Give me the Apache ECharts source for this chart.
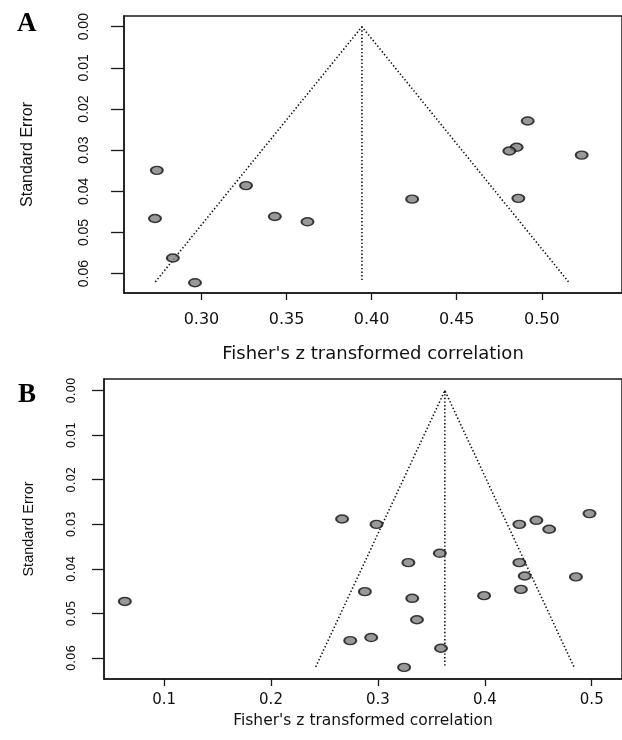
<!DOCTYPE html>
<html>
<head>
<meta charset="utf-8">
<script src="https://cdn.jsdelivr.net/npm/echarts@6/dist/echarts.min.js"></script>
<style>
  html, body { margin: 0; padding: 0; background: #fff; overflow: hidden; }
  #chart { width: 622px; height: 740px; }
</style>
</head>
<body>
<div id="chart"></div>
<script>
// Panel A: Fisher's z and standard error of each study
const zA = [0.2738, 0.2727, 0.2832, 0.2962, 0.3262, 0.3431, 0.3623, 0.4238, 0.4917, 0.4852, 0.4809, 0.5234, 0.4862];
const seA = [0.0349, 0.0466, 0.0562, 0.0622, 0.0386, 0.0461, 0.0474, 0.0419, 0.0229, 0.0293, 0.0302, 0.0312, 0.0417];
// funnel outline (left foot, apex, right foot) and centre line
const funnelA = [[0.2729, 0.062], [0.3943, 0], [0.5157, 0.062]];
const centreA = [[0.3943, 0], [0.3943, 0.062]];

// Panel B
const zB = [0.0633, 0.2665, 0.2987, 0.3579, 0.3285, 0.2878, 0.3321, 0.3365, 0.2937, 0.2741, 0.3590,
  0.3245, 0.3993, 0.4323, 0.4482, 0.4602, 0.4979, 0.4323, 0.4373, 0.4337, 0.4852];
const seB = [0.0473, 0.0288, 0.0300, 0.0365, 0.0386, 0.0451, 0.0466, 0.0514, 0.0554, 0.0561, 0.0578,
  0.0621, 0.0460, 0.0300, 0.0291, 0.0311, 0.0276, 0.0386, 0.0416, 0.0446, 0.0418];
const funnelB = [[0.2418, 0.062], [0.3626, 0], [0.4834, 0.062]];
const centreB = [[0.3626, 0], [0.3626, 0.062]];

// tick labels
const seTicks = [0, 0.01, 0.02, 0.03, 0.04, 0.05, 0.06];
const zTicksA = [0.30, 0.35, 0.40, 0.45, 0.50];
const zTicksB = [0.1, 0.2, 0.3, 0.4, 0.5];

const ink = '#1a1a1a';
const xFont = 'DejaVu Sans, Verdana, sans-serif';
const yFont = 'Liberation Sans, Arial, sans-serif';

const toPairs = (xs, ys) => xs.map((x, i) => [x, ys[i]]);

const chart = echarts.init(document.getElementById('chart'), null, { renderer: 'canvas' });

const xAxisBase = (gridIndex, min, max, ticks, digits, fontSize, margin, nameSize, nameGap) => ({
  type: 'value',
  gridIndex,
  min,
  max,
  position: 'bottom',
  splitLine: { show: false },
  axisLine: { show: true, onZero: false, lineStyle: { color: ink, width: 1.5 } },
  axisTick: { show: true, customValues: ticks, length: 7, lineStyle: { color: ink, width: 1.3 } },
  axisLabel: {
    customValues: ticks,
    formatter: v => v.toFixed(digits),
    color: '#111',
    fontFamily: xFont,
    fontSize,
    margin,
  },
  name: "Fisher's z transformed correlation",
  nameLocation: 'middle',
  nameGap,
  nameTextStyle: { color: '#111', fontFamily: xFont, fontSize: nameSize },
});

const yAxisBase = (gridIndex, labelFont, labelSize, margin, tickLen, nameSize, nameGap) => ({
  type: 'value',
  gridIndex,
  inverse: true,
  min: -0.0026,
  max: 0.0647,
  splitLine: { show: false },
  axisLine: { show: true, onZero: false, lineStyle: { color: ink, width: 1.5 } },
  axisTick: { show: true, customValues: seTicks, length: tickLen, lineStyle: { color: ink, width: 1.3 } },
  axisLabel: {
    customValues: seTicks,
    formatter: v => v.toFixed(2),
    rotate: 90,
    color: '#111',
    fontFamily: labelFont,
    fontSize: labelSize,
    margin,
  },
  name: 'Standard Error',
  nameLocation: 'middle',
  nameGap,
  nameTextStyle: { color: '#111', fontFamily: yFont, fontSize: nameSize },
});

const dotted = { color: '#111', width: 1.6, type: [1.4, 2.2] };

const pointStyle = {
  color: '#7f7f7f',
  borderColor: '#111',
  borderWidth: 1.7,
};

// the original figure is cropped on the right, so both boxes run past the page edge
const option = {
  backgroundColor: '#fff',
  animation: false,
  title: [
    { text: 'A', left: 12, top: 6, textStyle: { fontFamily: 'Liberation Serif, Times New Roman, serif', fontWeight: 'bold', fontSize: 27, color: '#000' } },
    { text: 'B', left: 13, top: 377, textStyle: { fontFamily: 'Liberation Serif, Times New Roman, serif', fontWeight: 'bold', fontSize: 27, color: '#000' } },
  ],
  grid: [
    { left: 124, top: 16, height: 277, width: 508, show: true, borderColor: ink, borderWidth: 1.5 },
    { left: 104, top: 379, height: 300, width: 530, show: true, borderColor: ink, borderWidth: 1.5 },
  ],
  xAxis: [
    xAxisBase(0, 0.2545, 0.5471, zTicksA, 2, 16, 19, 18, 52),
    xAxisBase(1, 0.0438, 0.5283, zTicksB, 1, 15, 14, 15.5, 34),
  ],
  yAxis: [
    yAxisBase(0, yFont, 14, 33, 13, 16, 88),
    yAxisBase(1, 'Liberation Sans Narrow, Arial Narrow, DejaVu Sans Condensed, sans-serif', 13, 26, 12, 14.5, 68),
  ],
  series: [
    { type: 'line', xAxisIndex: 0, yAxisIndex: 0, data: funnelA, symbol: 'none', lineStyle: dotted, z: 1 },
    { type: 'line', xAxisIndex: 0, yAxisIndex: 0, data: centreA, symbol: 'none', lineStyle: dotted, z: 1 },
    { type: 'scatter', xAxisIndex: 0, yAxisIndex: 0, data: toPairs(zA, seA), symbol: 'circle', symbolSize: [12, 8], itemStyle: pointStyle, z: 3 },
    { type: 'line', xAxisIndex: 1, yAxisIndex: 1, data: funnelB, symbol: 'none', lineStyle: dotted, z: 1 },
    { type: 'line', xAxisIndex: 1, yAxisIndex: 1, data: centreB, symbol: 'none', lineStyle: dotted, z: 1 },
    { type: 'scatter', xAxisIndex: 1, yAxisIndex: 1, data: toPairs(zB, seB), symbol: 'circle', symbolSize: [12, 8], itemStyle: pointStyle, z: 3 },
  ],
};

chart.setOption(option);
</script>
</body>
</html>
